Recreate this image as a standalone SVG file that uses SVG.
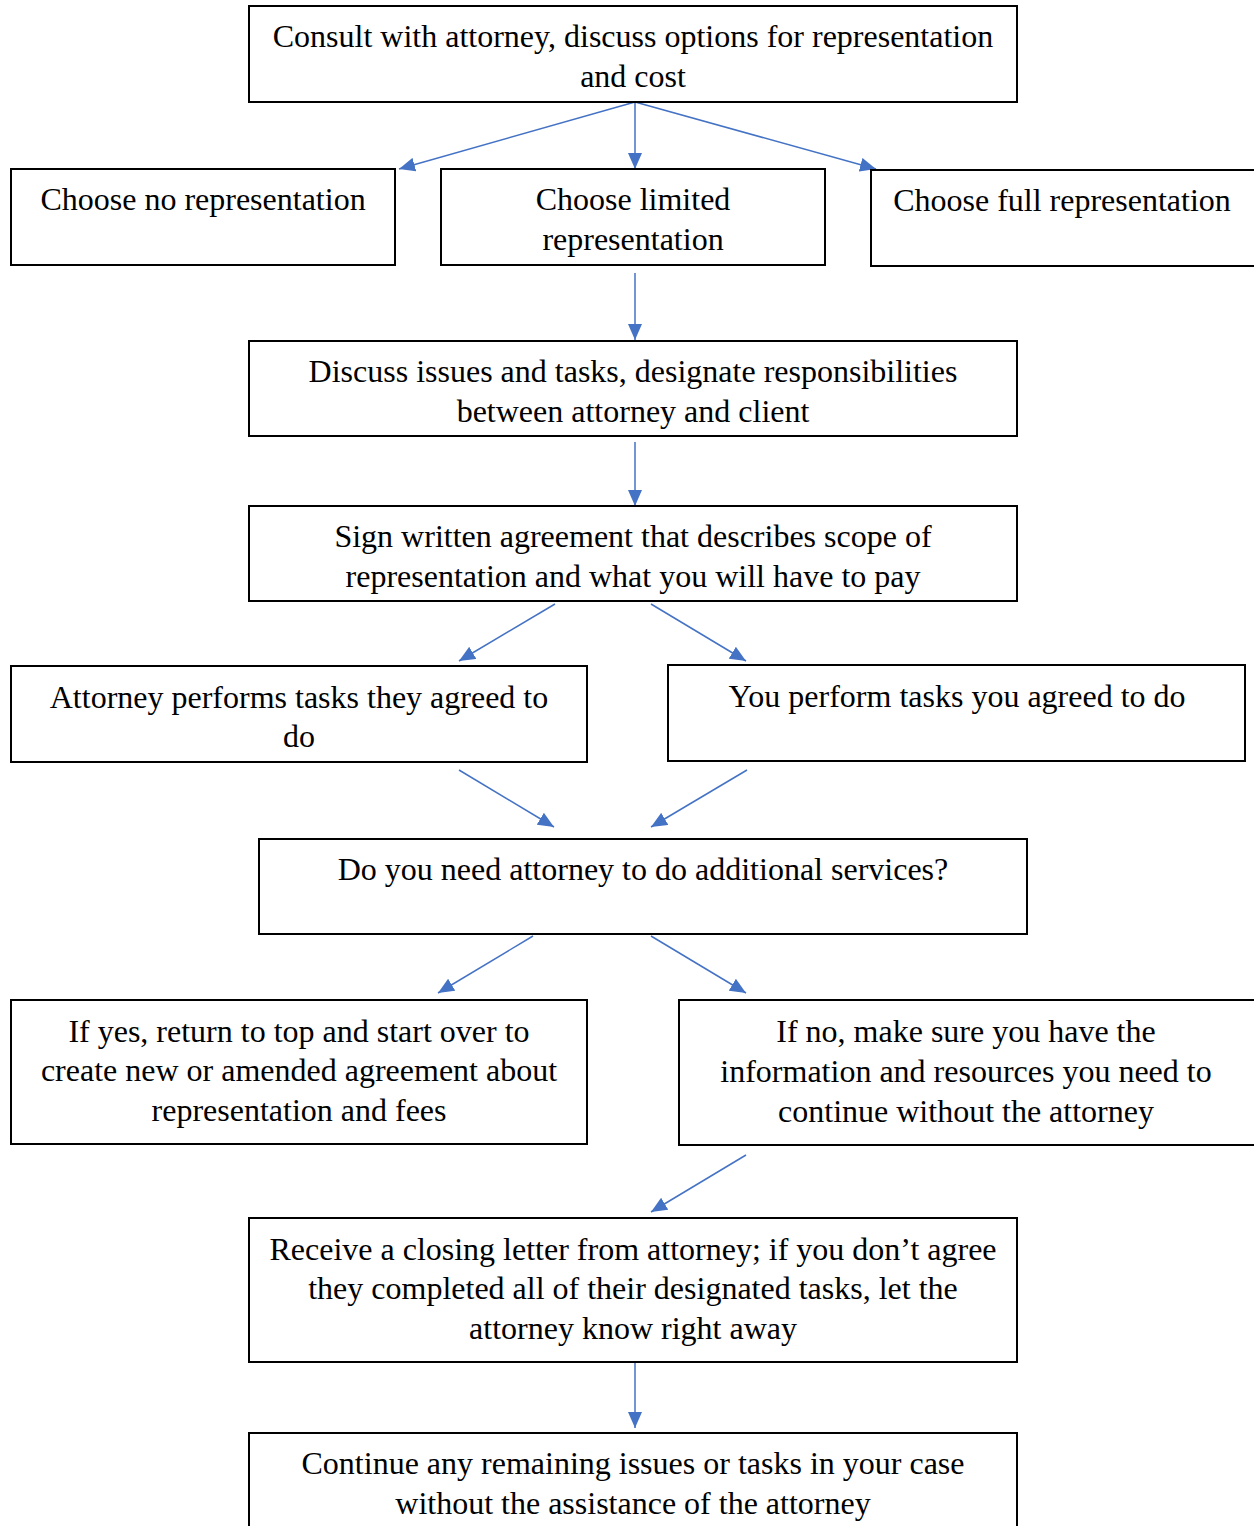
<svg xmlns="http://www.w3.org/2000/svg" width="1254" height="1526" viewBox="0 0 1254 1526">
<defs>
<style>
.box{fill:#fff;stroke:#000;stroke-width:2}
.t{font-family:"Liberation Serif","Times New Roman",serif;font-size:32px;fill:#000;text-anchor:middle}
.c{stroke:#4472C4;stroke-width:1.5;fill:none;marker-end:url(#ah)}
</style>
<marker id="ah" markerUnits="userSpaceOnUse" markerWidth="16" markerHeight="14" viewBox="0 0 16 14" refX="16" refY="7" orient="auto">
<path d="M0,0 L16,7 L0,14 Z" fill="#4472C4"/>
</marker>
</defs>
<rect width="1254" height="1526" fill="#fff"/>
<g id="connectors">
<line class="c" x1="635" y1="102" x2="399" y2="169"/>
<line class="c" x1="635" y1="102" x2="635" y2="169"/>
<line class="c" x1="635" y1="102" x2="876" y2="169"/>
<line class="c" x1="635" y1="273" x2="635" y2="340"/>
<line class="c" x1="635" y1="442" x2="635" y2="506"/>
<line class="c" x1="555" y1="604" x2="459" y2="661"/>
<line class="c" x1="651" y1="604" x2="746" y2="661"/>
<line class="c" x1="459" y1="770" x2="554" y2="827"/>
<line class="c" x1="747" y1="770" x2="651" y2="827"/>
<line class="c" x1="533" y1="936" x2="438" y2="993"/>
<line class="c" x1="651" y1="936" x2="746" y2="993"/>
<line class="c" x1="746" y1="1155" x2="651" y2="1212"/>
<line class="c" x1="635" y1="1362" x2="635" y2="1428"/>
</g>
<g id="n1"><rect class="box" x="249" y="6" width="768" height="96"/>
<text class="t" x="633" y="47">Consult with attorney, discuss options for representation</text>
<text class="t" x="633" y="87">and cost</text></g>
<g id="n2"><rect class="box" x="11" y="169" width="384" height="96"/>
<text class="t" x="203" y="210">Choose no representation</text></g>
<g id="n3"><rect class="box" x="441" y="169" width="384" height="96"/>
<text class="t" x="633" y="210">Choose limited</text>
<text class="t" x="633" y="250">representation</text></g>
<g id="n4"><rect class="box" x="871" y="170" width="384" height="96"/>
<text class="t" x="1062" y="211">Choose full representation</text></g>
<g id="n5"><rect class="box" x="249" y="341" width="768" height="95"/>
<text class="t" x="633" y="382">Discuss issues and tasks, designate responsibilities</text>
<text class="t" x="633" y="422">between attorney and client</text></g>
<g id="n6"><rect class="box" x="249" y="506" width="768" height="95"/>
<text class="t" x="633" y="547">Sign written agreement that describes scope of</text>
<text class="t" x="633" y="587">representation and what you will have to pay</text></g>
<g id="n7"><rect class="box" x="11" y="666" width="576" height="96"/>
<text class="t" x="299" y="708">Attorney performs tasks they agreed to</text>
<text class="t" x="299" y="747">do</text></g>
<g id="n8"><rect class="box" x="668" y="665" width="577" height="96"/>
<text class="t" x="957" y="707">You perform tasks you agreed to do</text></g>
<g id="n9"><rect class="box" x="259" y="839" width="768" height="95"/>
<text class="t" x="643" y="880">Do you need attorney to do additional services?</text></g>
<g id="n10"><rect class="box" x="11" y="1000" width="576" height="144"/>
<text class="t" x="299" y="1042">If yes, return to top and start over to</text>
<text class="t" x="299" y="1081">create new or amended agreement about</text>
<text class="t" x="299" y="1121">representation and fees</text></g>
<g id="n11"><rect class="box" x="679" y="1000" width="576" height="145"/>
<text class="t" x="966" y="1042">If no, make sure you have the</text>
<text class="t" x="966" y="1082">information and resources you need to</text>
<text class="t" x="966" y="1122">continue without the attorney</text></g>
<g id="n12"><rect class="box" x="249" y="1218" width="768" height="144"/>
<text class="t" x="633" y="1260">Receive a closing letter from attorney; if you don’t agree</text>
<text class="t" x="633" y="1299">they completed all of their designated tasks, let the</text>
<text class="t" x="633" y="1339">attorney know right away</text></g>
<g id="n13"><rect class="box" x="249" y="1433" width="768" height="110"/>
<text class="t" x="633" y="1474">Continue any remaining issues or tasks in your case</text>
<text class="t" x="633" y="1514">without the assistance of the attorney</text></g>
</svg>
